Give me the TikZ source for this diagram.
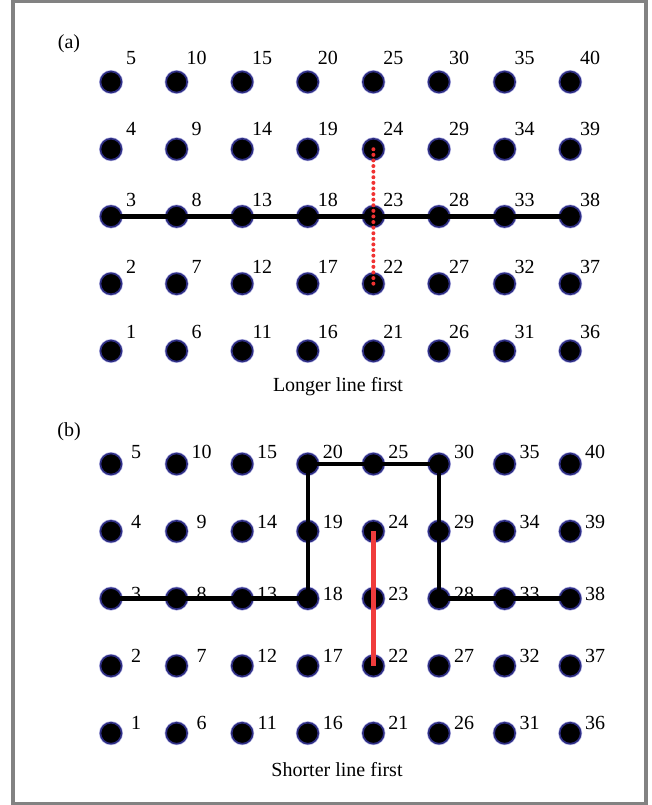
\documentclass[tikz,border=0pt]{standalone}
\usepackage{fontspec}
\setmainfont{Liberation Serif}
\definecolor{framegray}{RGB}{130,130,130}
\definecolor{halo}{RGB}{45,45,130}
\definecolor{halosoft}{RGB}{175,175,225}
\definecolor{redA}{RGB}{240,50,50}
\definecolor{redB}{RGB}{240,60,60}
\begin{document}
\begin{tikzpicture}[x=1pt,y=-1pt,
  dotnode/.style={circle,fill=black,draw=halo,line width=1.6pt,minimum size=21pt,inner sep=0pt},
  numlabel/.style={font=\fontsize{20}{22}\selectfont,inner sep=0pt},
  caption/.style={font=\fontsize{20}{22}\selectfont,inner sep=0pt},
  blackline/.style={line width=4.5pt,black},
  reddots/.style={line width=4pt,redA,line cap=round,dash pattern=on 0pt off 5.6pt},
  redline/.style={line width=4.5pt,redB},
  framebox/.style={draw=framegray,line width=4pt}]
\useasboundingbox (0,0) rectangle (652,805);
\draw[framebox] (13,1.5) rectangle (645.5,803.5);
% panel (a)
\foreach \c in {0,...,7}{
  \foreach \r/\ly in {1/19,2/17,3/17,4/20,5/24}{
    \pgfmathtruncatemacro\n{5*\c+\r}
    \fill[halosoft] ({111+65.6*\c},{82+67.25*(5-\r)}) circle (12pt);
    \node[dotnode] (a\n) at ({111+65.6*\c},{82+67.25*(5-\r)}) {};
    \node[numlabel] (la\n) at ({131+65.6*\c},{82+67.25*(5-\r)-\ly}) {\n};
  }
}
% panel (b)
\foreach \c in {0,...,7}{
  \foreach \r/\ly in {1/10,2/10,3/5,4/9,5/12}{
    \pgfmathtruncatemacro\n{5*\c+\r}
    \fill[halosoft] ({111+65.6*\c},{464+67.3*(5-\r)}) circle (12pt);
    \node[dotnode] (b\n) at ({111+65.6*\c},{464+67.3*(5-\r)}) {};
    \node[numlabel] (lb\n) at ({136+65.6*\c},{464+67.3*(5-\r)-\ly}) {\n};
  }
}
\node[caption] (pa) at (69,44) {(a)};
\node[caption] (pb) at (69,432) {(b)};
\node[caption] (capa) at (338,387) {Longer line first};
\node[caption] (capb) at (337,770) {Shorter line first};
% lines (a)
\draw[blackline] (a3.center) -- (a38.center);
\draw[reddots] (a24.center) -- (a22.center);
% lines (b)
\draw[blackline] (b3.center) -- (b18.center) -- (b20.center) -- (b30.center) -- (b28.center) -- (b38.center);
\draw[redline] (b24.center) -- (b22.center);
\end{tikzpicture}
\end{document}
